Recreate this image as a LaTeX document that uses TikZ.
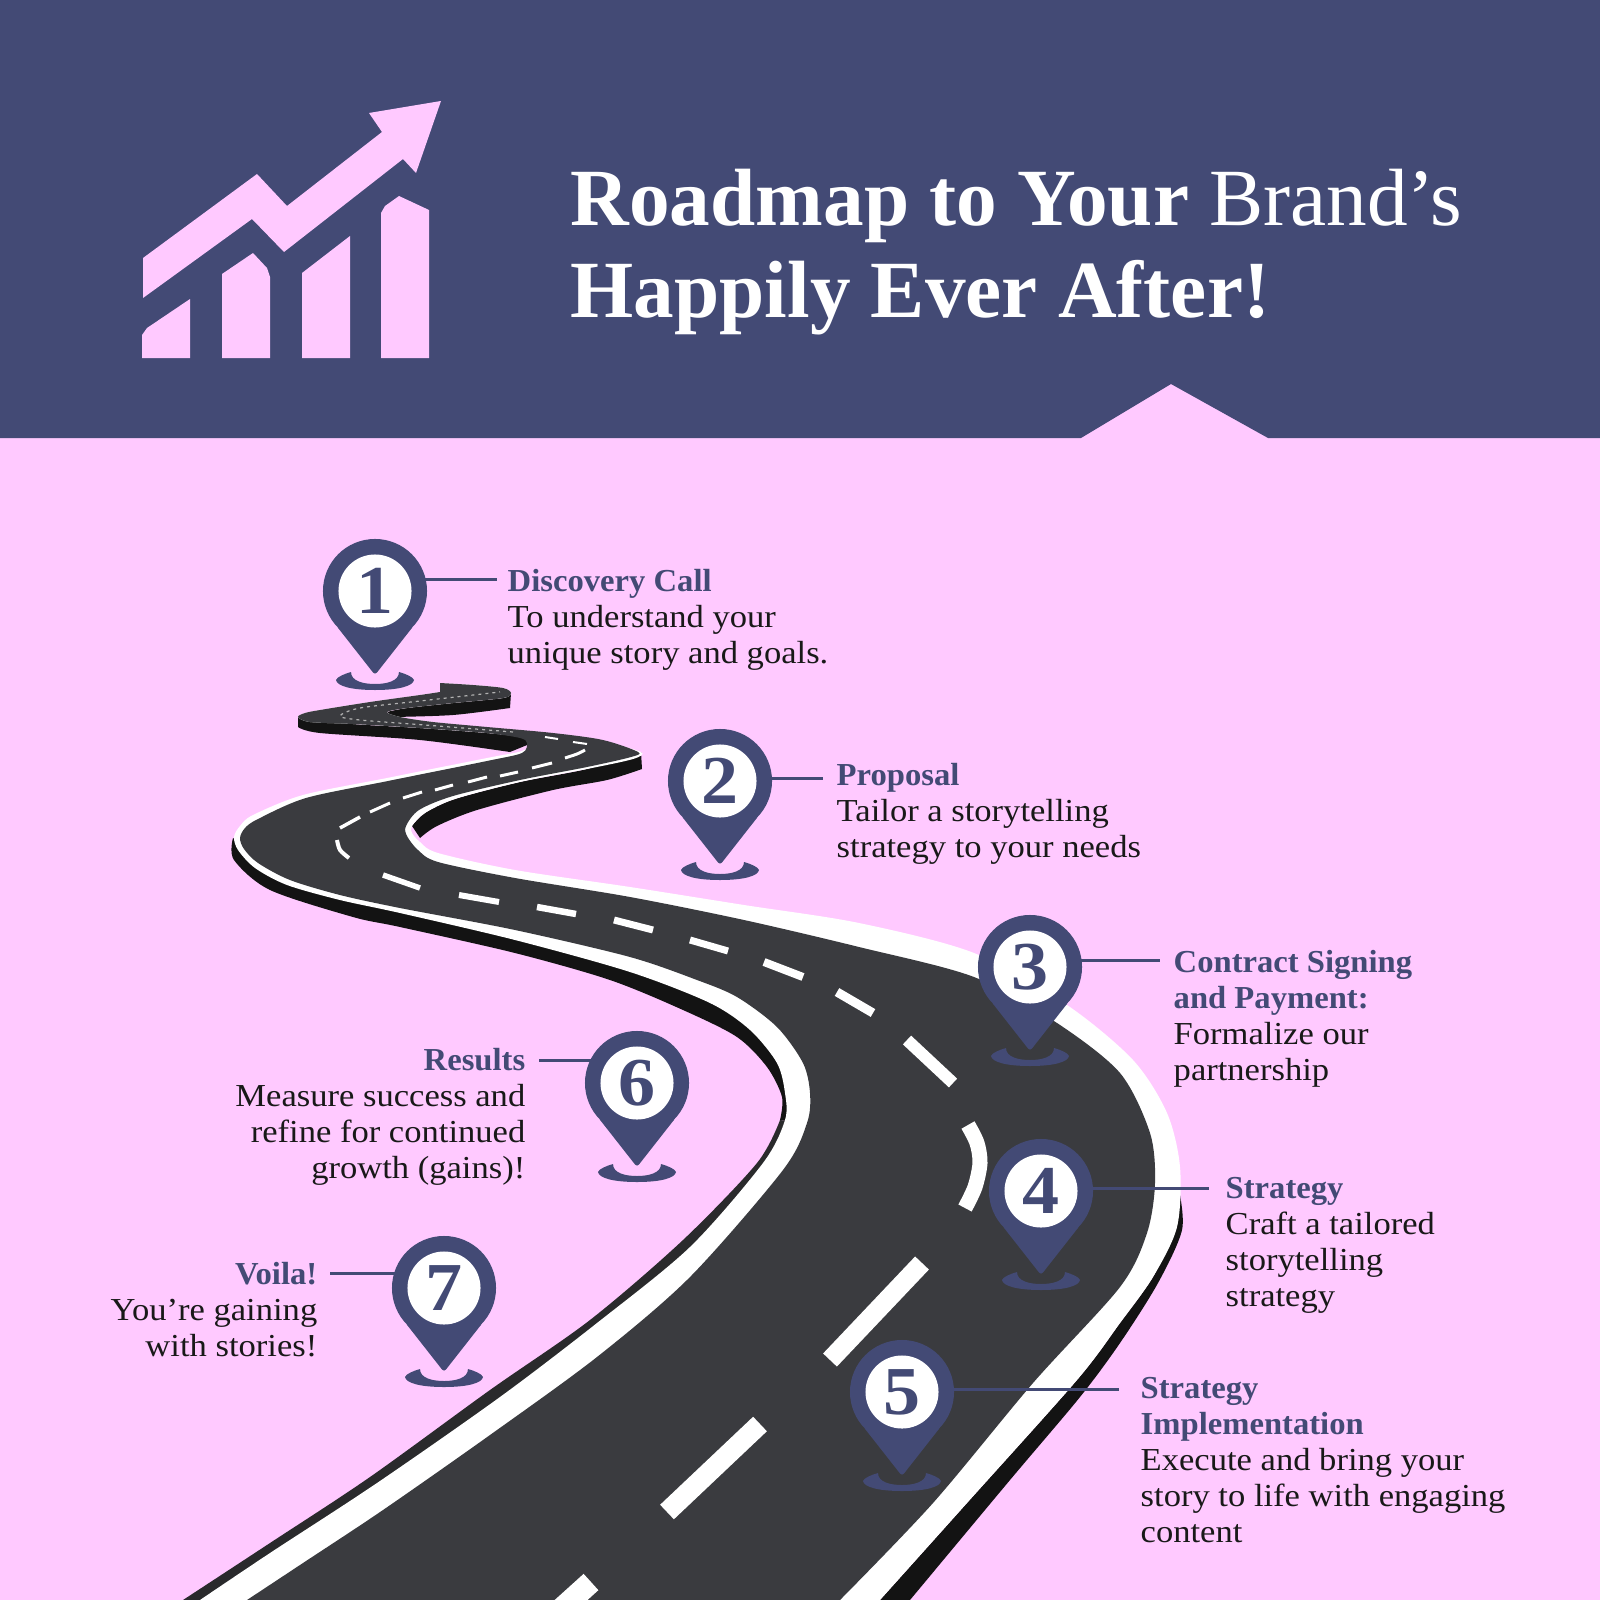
\documentclass[tikz,border=0pt]{standalone}
\usepackage{fontspec}
\setmainfont{Liberation Serif}[FakeStretch=1.08]
\newfontfamily\headfont{Liberation Serif}[FakeStretch=1.02]
\newfontfamily\titlefont{Liberation Serif}
\usepackage{tikz}
\usetikzlibrary{calc,positioning}
\definecolor{blush}{HTML}{FFC9FF}
\definecolor{navy}{HTML}{434A75}
\definecolor{asphalt}{HTML}{3A3B3F}
\definecolor{roadwall}{HTML}{131313}
\definecolor{roadside}{HTML}{2A2A2C}
\tikzset{
  pinhead/.style={circle,fill=navy,minimum size=1.04cm,inner sep=0pt},
  pinface/.style={circle,fill=white,minimum size=0.73cm,inner sep=0pt,text=navy,
                  font=\fontsize{19.5}{20}\selectfont\bfseries},
  leader/.style={navy,line width=0.03cm},
  steptext/.style={inner sep=0pt,text=black!90,font=\fontsize{9.1}{10.24}\selectfont},
  stepleft/.style={steptext,anchor=north west,align=left},
  stepright/.style={steptext,anchor=north east,align=right},
  titletext/.style={inner sep=0pt,anchor=north west,align=left,text=white,
                    font=\titlefont\fontsize{23.1}{26.2}\selectfont},
  lane/.style={white,line cap=butt},
}
\newcommand{\stephead}[1]{\textcolor{navy}{\headfont\bfseries #1}}
\begin{document}
\begin{tikzpicture}[x=0.01cm,y=-0.01cm]
  \useasboundingbox (0,0) rectangle (1600,1600) ;
  \clip (0,0) rectangle (1600,1600) ;
  \fill [blush] (0,0) rectangle (1600,1600) ;
%
  \fill [navy] (0,0) -- (1600,0) -- (1600,438) -- (1268,438) -- (1171,384)
               -- (1081,438) -- (0,438) -- cycle ;
%
  \fill [blush] (143,258) -- (257,174) -- (287,206) -- (382,132) -- (369,113)
                -- (441,101) -- (416,173) -- (403,159) -- (284,252) -- (252,219)
                -- (143,298) -- cycle ;
  \fill [blush] (142,358) -- (142,335) -- (147,328) -- (190,299) -- (190,358) -- cycle ;
  \fill [blush] (222,358) -- (222,274) -- (253,253) -- (267,268) -- (270,277) -- (270,358) -- cycle ;
  \fill [blush] (302,358) -- (302,273) -- (350,236) -- (350,358) -- cycle ;
  \fill [blush] (381,358) -- (381,213) -- (385,206) -- (399,196) -- (429,210) -- (429,358) -- cycle ;
%
  \node [titletext] (title) at (570,168)
    {\textbf{Roadmap to Your} Brand’s\\ \textbf{Happily Ever After!}} ;
%
  % side walls of the road
  \fill [roadwall] plot [smooth] coordinates {(511,693) (503,698) (453,703) (407,708) (387,712)}
    -- plot [smooth] coordinates {(393,717) (453,715) (510,708)} -- cycle ;
  \fill [roadwall] plot [smooth] coordinates {(298,717) (353,724) (420,728) (487,733) (520,737) (532,743)}
    -- plot [smooth] coordinates {(510,752) (420,740) (320,733) (298,727)} -- cycle ;
  \fill [roadwall] plot [smooth] coordinates {(641,752) (587,769) (520,782) (455,799) (425,813) (412,826)}
    -- plot [smooth] coordinates {(420,838) (437,826) (477,810) (553,790) (607,780) (642,769)} -- cycle ;
  \fill [roadwall] plot [smooth] coordinates {(233,838) (234,860) (270,890) (353,917) (400,927) (515,953) (610,980) (683,1010) (737,1037) (767,1067) (782,1097) (780,1120)}
    -- plot [smooth] coordinates {(800,1123) (803,1093) (777,1040) (700,985) (515,930) (400,905) (290,875) (250,850)} -- cycle ;
  \fill [roadside] plot [smooth] coordinates {(780,1120) (757,1163) (683,1240) (590,1320) (490,1390) (370,1477) (270,1543) (183,1600)}
    -- plot [smooth] coordinates {(247,1600) (303,1563) (383,1510) (490,1435) (597,1357) (690,1277) (783,1170) (800,1123)} -- cycle ;
  \fill [roadwall] plot [smooth] coordinates {(1179,1190) (1182,1230) (1158,1283) (1120,1343) (1080,1397) (1010,1480) (910,1600)}
    -- plot [smooth] coordinates {(880,1600) (967,1503) (1077,1380) (1120,1323) (1153,1277) (1177,1227)} -- cycle ;
%
  % painted verge, then the surface
  \fill [white] plot [smooth] coordinates {(440,683) (473,685) (503,688) (511,693) (503,698) (453,703) (407,708) (387,712) (400,717) (433,722) (487,728) (553,735) (603,742) (641,752) (633,759) (587,769) (520,782) (455,799) (425,813) (412,826) (412,833) (420,842) (438,853) (515,870) (630,887) (744,905) (859,923) (974,953) (1067,1005) (1133,1060) (1167,1113) (1180,1167) (1177,1227) (1153,1277) (1120,1323) (1077,1380) (967,1503) (880,1600)}
    -- plot [smooth] coordinates {(200,1600) (270,1553) (377,1483) (500,1397) (597,1323) (690,1247) (763,1163) (785,1120) (785,1093) (777,1063) (750,1030) (710,1003) (630,972) (515,940) (400,913) (340,900) (287,885) (255,868) (238,850) (234,837) (240,826) (253,815) (303,795) (387,778) (487,758) (522,751) (532,743) (520,737) (487,733) (420,728) (353,724) (310,722) (298,717) (305,713) (320,710) (370,702) (420,695) (440,692)} -- cycle ;
  \fill [asphalt] plot [smooth] coordinates {(440,683) (473,685) (503,688) (511,693) (503,698) (453,703) (407,708) (387,712) (400,717) (433,722) (487,727) (553,733) (603,740) (638,752) (631,757) (587,767) (520,780) (453,796) (419,810) (406,826) (407,836) (418,850) (438,862) (515,878) (630,897) (744,920) (859,947) (974,977) (1057,1023) (1120,1073) (1150,1133) (1155,1183) (1147,1233) (1120,1287) (1033,1383) (933,1503) (840,1600)}
    -- plot [smooth] coordinates {(247,1600) (303,1563) (383,1510) (490,1435) (597,1357) (690,1277) (783,1170) (807,1123) (810,1093) (803,1063) (777,1027) (737,997) (697,980) (630,957) (515,930) (400,908) (340,895) (290,880) (258,863) (244,849) (240,838) (245,828) (258,819) (306,798) (388,781) (487,761) (522,753) (527,743) (520,738) (487,733) (420,728) (353,724) (310,722) (298,717) (305,713) (320,710) (370,702) (420,695) (440,692)} -- cycle ;
%
  % centre line
  \foreach \ax/\ay/\bx/\by/\wd in {591/1582/560/1610/22, 760/1424/667/1512/20, 922/1263/830/1360/19,
      837/992/873/1013/9, 764/962/803/977/8, 690/940/728/951/7, 614/920/653/930/7,
      537/907/576/914/6.5, 459/895/499/902/6, 383/875/420/888/5.5, 340/828/360/817/3.5,
      370/812/390/803/3, 403/798/422/792/3, 435/790/453/785/3, 468/782/487/777/3,
      500/776/518/772/3, 532/768/552/763/3, 545/737/558/739/2}
    \draw [lane,line width=\wd*0.01cm] (\ax,\ay) -- (\bx,\by) ;
  \draw [lane,line width=0.15cm] plot [smooth] coordinates {(968,1125) (977,1143) (980,1163) (975,1187) (965,1208)} ;
  \draw [lane,line width=0.12cm] (907,1040) -- (953,1083) ;
  \draw [lane,line width=0.04cm] plot [smooth] coordinates {(349,858) (340,850) (337,840)} ;
  \draw [lane,line width=0.03cm] plot [smooth] coordinates {(565,758) (577,754) (585,750)} ;
  \draw [lane,line width=0.02cm] (573,742) -- (587,744) ;
  \draw [gray!60,line width=0.012cm,dash pattern=on 0.03cm off 0.04cm] plot [smooth]
    coordinates {(513,732) (425,725) (360,720) (340,716) (360,708) (420,701) (500,692)} ;
%
  % markers
  \foreach \px/\py/\num/\lx/\ly in {375/591/1/497/579, 720/781/2/823/778, 1030/967/3/1160/960,
      1041/1191/4/1209/1188, 902/1392/5/1119/1389, 637/1083/6/539/1060, 444/1288/7/330/1273} {
    \coordinate (lead\num) at (\lx,\ly) ;
    \fill [navy,rounded corners=0.03cm] (\px-38.6,\py+34.8) -- (\px,\py+84) -- (\px+38.6,\py+34.8) -- cycle ;
    \fill [navy] (\px,\py+99) .. controls (\px+24,\py+99) and (\px+38,\py+95) .. (\px+39,\py+89)
      .. controls (\px+38,\py+86) and (\px+31,\py+83) .. (\px+24,\py+81)
      .. controls (\px+24,\py+90) and (\px+12,\py+93) .. (\px,\py+93)
      .. controls (\px-12,\py+93) and (\px-24,\py+90) .. (\px-24,\py+81)
      .. controls (\px-31,\py+83) and (\px-38,\py+86) .. (\px-39,\py+89)
      .. controls (\px-38,\py+95) and (\px-24,\py+99) .. (\px,\py+99) -- cycle ;
    \node [pinhead] (pin\num) at (\px,\py) {} ;
    \draw [leader] (pin\num.center |- lead\num) -- (lead\num) ;
    \node [pinface] (face\num) at (\px,\py) {\num} ;
  }
%
  \node [stepleft] (call) at (507,569) {\stephead{Discovery Call}\\To understand your\\unique story and goals.} ;
  \node [stepleft] (proposal) at (836,763) {\stephead{Proposal}\\Tailor a storytelling\\strategy to your needs} ;
  \node [stepleft] (contract) at (1173,950) {\stephead{Contract Signing}\\\stephead{and Payment:}\\Formalize our\\partnership} ;
  \node [stepleft] (strategy) at (1225,1177) {\stephead{Strategy}\\Craft a tailored\\storytelling\\strategy} ;
  \node [stepleft] (rollout) at (1140,1377) {\stephead{Strategy}\\\stephead{Implementation}\\Execute and bring your\\story to life with engaging\\content} ;
  \node [stepright] (results) at (526,1048) {\stephead{Results}\\Measure success and\\refine for continued\\growth (gains)!} ;
  \node [stepright] (voila) at (318,1262) {\stephead{Voila!}\\You’re gaining\\with stories!} ;
\end{tikzpicture}
\end{document}
